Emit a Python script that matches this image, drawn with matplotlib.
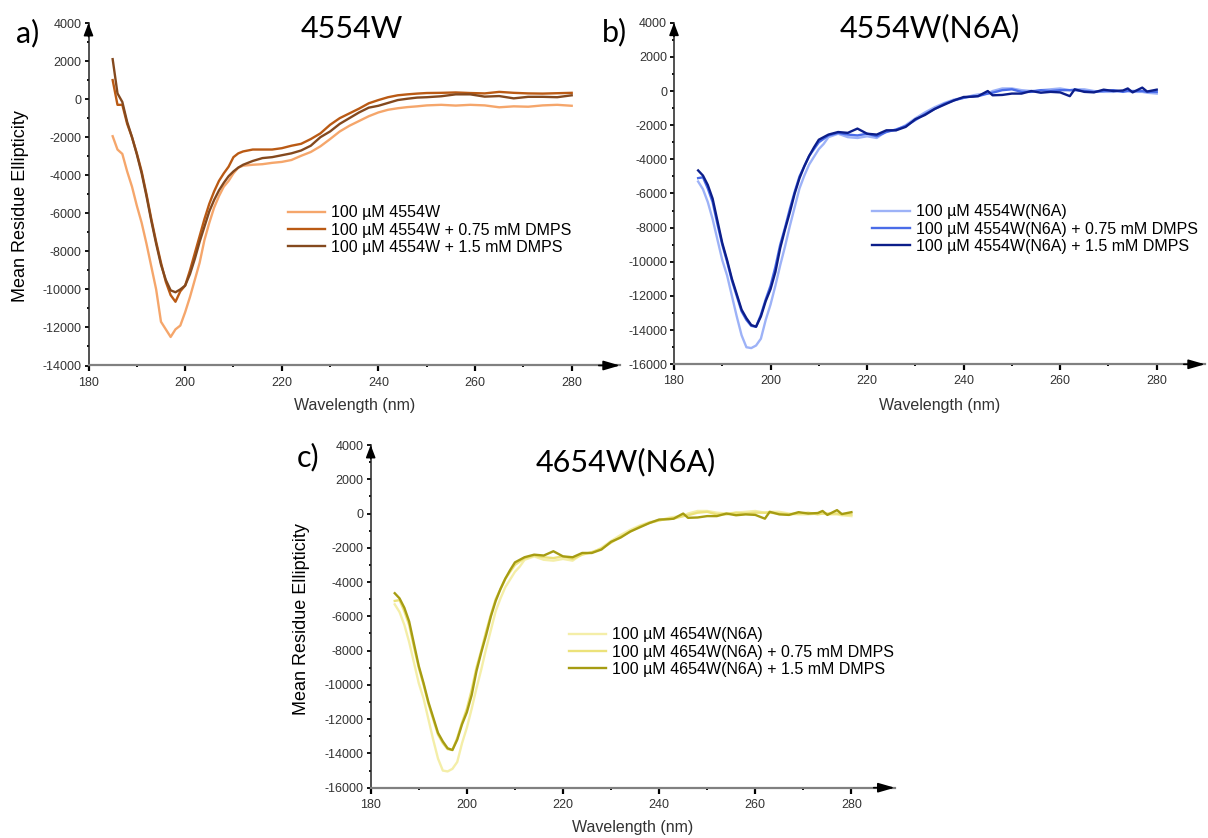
import matplotlib
matplotlib.use("Agg")
import matplotlib.pyplot as plt
from matplotlib.ticker import MultipleLocator

plt.rcParams['font.family'] = ['Liberation Sans', 'DejaVu Sans']
plt.rcParams['axes.unicode_minus'] = False

# ---- data ----
wl_a = [185, 186, 187, 188, 189, 190, 191, 192, 193, 194, 195, 196, 197, 198, 199,
        200, 201, 202, 203, 204, 205, 206, 207, 208, 209, 210, 211, 212, 214, 216,
        218, 220, 222, 224, 226, 228, 230, 232, 234, 236, 238, 240, 242, 244, 246,
        248, 250, 253, 256, 259, 262, 265, 268, 271, 274, 277, 280]

a_free = [-1950, -2650, -2880, -3800, -4600, -5600, -6500, -7600, -8800, -10000,
          -11700, -12100, -12500, -12100, -11900, -11200, -10400, -9500, -8600, -7400,
          -6500, -5700, -5100, -4600, -4300, -3900, -3600, -3500, -3450, -3420,
          -3350, -3300, -3200, -2980, -2780, -2480, -2100, -1700, -1400, -1150,
          -900, -700, -560, -480, -420, -380, -330, -300, -340, -300,
          -330, -430, -380, -400, -330, -300, -350]
a_075 = [1000, -300, -300, -1300, -2000, -2850, -3800, -5000, -6300, -7500,
         -8600, -9600, -10300, -10650, -10100, -9800, -9000, -8100, -7200, -6300,
         -5500, -4850, -4300, -3900, -3550, -3050, -2850, -2750, -2650, -2650,
         -2650, -2580, -2450, -2350, -2100, -1800, -1350, -1000, -750, -500,
         -220, -50, 100, 200, 250, 290, 320, 330, 350, 320,
         300, 380, 330, 300, 290, 310, 330]
a_15 = [2100, 300, -150, -1200, -2000, -2900, -3900, -5100, -6400, -7600,
        -8700, -9500, -10050, -10150, -10000, -9800, -9200, -8400, -7500, -6700,
        -5900, -5300, -4800, -4400, -4050, -3800, -3600, -3450, -3250, -3100,
        -3050, -2950, -2850, -2700, -2450, -2000, -1700, -1300, -1000, -700,
        -450, -350, -200, -50, 20, 80, 100, 150, 250, 250,
        130, 160, 40, 120, 120, 100, 200]

wl_b = [185, 186, 187, 188, 189, 190, 191, 192, 193, 194, 195, 196, 197, 198, 199,
        200, 201, 202, 203, 204, 205, 206, 207, 208, 209, 210, 211, 212, 214, 216,
        218, 220, 222, 224, 226, 228, 230, 232, 234, 236, 238, 240, 242, 243, 245,
        246, 248, 250, 252, 254, 256, 258, 260, 262, 263, 265, 267, 269, 271, 273,
        274, 275, 277, 278, 280]

b_free = [-5300, -5750, -6500, -7500, -8700, -9900, -10800, -12000, -13200, -14300,
          -15000, -15050, -14900, -14500, -13400, -12500, -11400, -10200, -9100, -7900,
          -6800, -5700, -4950, -4300, -3850, -3400, -3100, -2700, -2500, -2700,
          -2750, -2650, -2750, -2350, -2300, -2000, -1600, -1250, -950, -700,
          -500, -400, -250, -200, -150, 0, 150, 150, 50, 0,
          50, 100, 150, 50, 100, 100, 0, -50, -50, 0,
          0, -50, -50, -100, -150]
b_075 = [-5100, -5050, -5700, -6500, -7800, -9000, -10000, -11100, -12000, -12900,
         -13400, -13750, -13800, -13100, -12200, -11400, -10300, -9000, -8000, -6900,
         -5900, -5000, -4400, -3800, -3400, -3000, -2800, -2600, -2450, -2550,
         -2600, -2500, -2650, -2400, -2250, -2050, -1700, -1350, -1050, -750,
         -550, -400, -300, -300, -150, -100, 50, 100, -50, -50,
         50, 0, 50, 50, 50, 0, -50, 0, 50, -50,
         0, 0, 0, -50, -50]
b_15 = [-4650, -4950, -5500, -6300, -7600, -8900, -9900, -11000, -11900, -12800,
        -13300, -13700, -13800, -13200, -12300, -11600, -10600, -9200, -8100, -7100,
        -6000, -5100, -4400, -3800, -3300, -2850, -2700, -2550, -2400, -2450,
        -2200, -2500, -2550, -2300, -2300, -2100, -1650, -1400, -1050, -800,
        -550, -350, -330, -300, 0, -250, -230, -150, -150, 0,
        -100, -50, -80, -300, 100, -50, -80, 80, 0, 30,
        150, -80, 200, -30, 80]

# panel c traces are the same as panel b in the figure
wl_c = wl_b
c_free = b_free
c_075 = b_075
c_15 = b_15

W, H = 1208, 838
fig = plt.figure(figsize=(W / 100, H / 100), dpi=100)


def make_panel(left, top, width, height, xmax, ymin, wl, series, colors, labels,
               title, title_xy, letter, letter_xy, leg_xy, xlab_y, ylab_xy=None):
    ax = fig.add_axes([left / W, 1 - (top + height) / H, width / W, height / H])
    for ys, c, lab in zip(series, colors, labels):
        ax.plot(wl, ys, color=c, lw=1.7, label=lab)
    ax.set_xlim(180, xmax)
    ax.set_ylim(ymin, 4000)
    ax.set_xticks(range(180, 281, 20))
    ax.set_xticks(range(190, 280, 20), minor=True)
    ax.yaxis.set_major_locator(MultipleLocator(2000))
    ax.yaxis.set_minor_locator(MultipleLocator(1000))
    ax.spines['top'].set_visible(False)
    ax.spines['right'].set_visible(False)
    ax.spines['left'].set_color('#222222')
    ax.spines['left'].set_linewidth(1.1)
    ax.spines['bottom'].set_color('#808080')
    ax.spines['bottom'].set_linewidth(1.6)
    ax.tick_params(axis='x', which='major', direction='out', length=4, width=1.6,
                   color='black', labelsize=9, labelcolor='#333333', pad=4)
    ax.tick_params(axis='x', which='minor', direction='out', length=1.5, width=1.4,
                   color='black')
    ax.tick_params(axis='y', which='major', direction='out', length=3, width=1.3,
                   color='black', labelsize=9, labelcolor='#333333', pad=2)
    ax.tick_params(axis='y', which='minor', direction='out', length=1.5, width=1.3,
                   color='black')
    # axis arrows
    ax.annotate('', xy=(0, 1), xycoords='axes fraction', xytext=(0, 0.96),
                arrowprops=dict(arrowstyle='-|>,head_length=0.76,head_width=0.29',
                                color='black', lw=1.1, shrinkA=0, shrinkB=0),
                annotation_clip=False)
    ax.annotate('', xy=(1, 0), xycoords='axes fraction', xytext=(0.96, 0),
                arrowprops=dict(arrowstyle='-|>,head_length=1.0,head_width=0.29',
                                color='black', lw=1.2, shrinkA=0, shrinkB=0),
                annotation_clip=False)
    fig.text(title_xy[0] / W, 1 - title_xy[1] / H, title, fontsize=22,
             family=['Lato', 'DejaVu Sans'], ha='center', va='center')
    fig.text(letter_xy[0] / W, 1 - letter_xy[1] / H, letter, fontsize=22,
             family=['Lato', 'DejaVu Sans'], ha='center', va='center')
    fig.text((left + width / 2) / W, 1 - xlab_y / H, 'Wavelength (nm)',
             fontsize=11.5, color='#333333', ha='center', va='center')
    if ylab_xy is not None:
        fig.text(ylab_xy[0] / W, 1 - ylab_xy[1] / H, 'Mean Residue Ellipticity',
                 fontsize=13, rotation=90, ha='center', va='center')
    ax.legend(loc='center left', bbox_to_anchor=(leg_xy[0] / W, 1 - leg_xy[1] / H),
              bbox_transform=fig.transFigure, frameon=False, fontsize=11.5,
              handlelength=2.35, handletextpad=0.35, labelspacing=0.15,
              borderpad=0, borderaxespad=0)
    return ax


make_panel(88.5, 23, 531.5, 342.5, 290, -14000, wl_a, [a_free, a_075, a_15],
           ['#F5A66B', '#BA5A14', '#84491E'],
           ['100 µM 4554W', '100 µM 4554W + 0.75 mM DMPS', '100 µM 4554W + 1.5 mM DMPS'],
           '4554W', (352, 28.5), 'a)', (27.8, 33), (287.6, 230), 405, (21, 206))

make_panel(674, 22.7, 531, 341.6, 290, -16000, wl_b, [b_free, b_075, b_15],
           ['#9DB2F7', '#4A6CE8', '#0C1E8A'],
           ['100 µM 4554W(N6A)', '100 µM 4554W(N6A) + 0.75 mM DMPS',
            '100 µM 4554W(N6A) + 1.5 mM DMPS'],
           '4554W(N6A)', (929.6, 28.5), 'b)', (614.6, 31.7), (872.4, 229), 405)

make_panel(370.7, 445, 524, 342.7, 289, -16000, wl_c, [c_free, c_075, c_15],
           ['#F4EEA8', '#ECE27A', '#A69C12'],
           ['100 µM 4654W(N6A)', '100 µM 4654W(N6A) + 0.75 mM DMPS',
            '100 µM 4654W(N6A) + 1.5 mM DMPS'],
           '4654W(N6A)', (625.6, 462.5), 'c)', (307.6, 457.5), (568.6, 652), 827, (302, 619))

fig.savefig('out.png', dpi=100)
